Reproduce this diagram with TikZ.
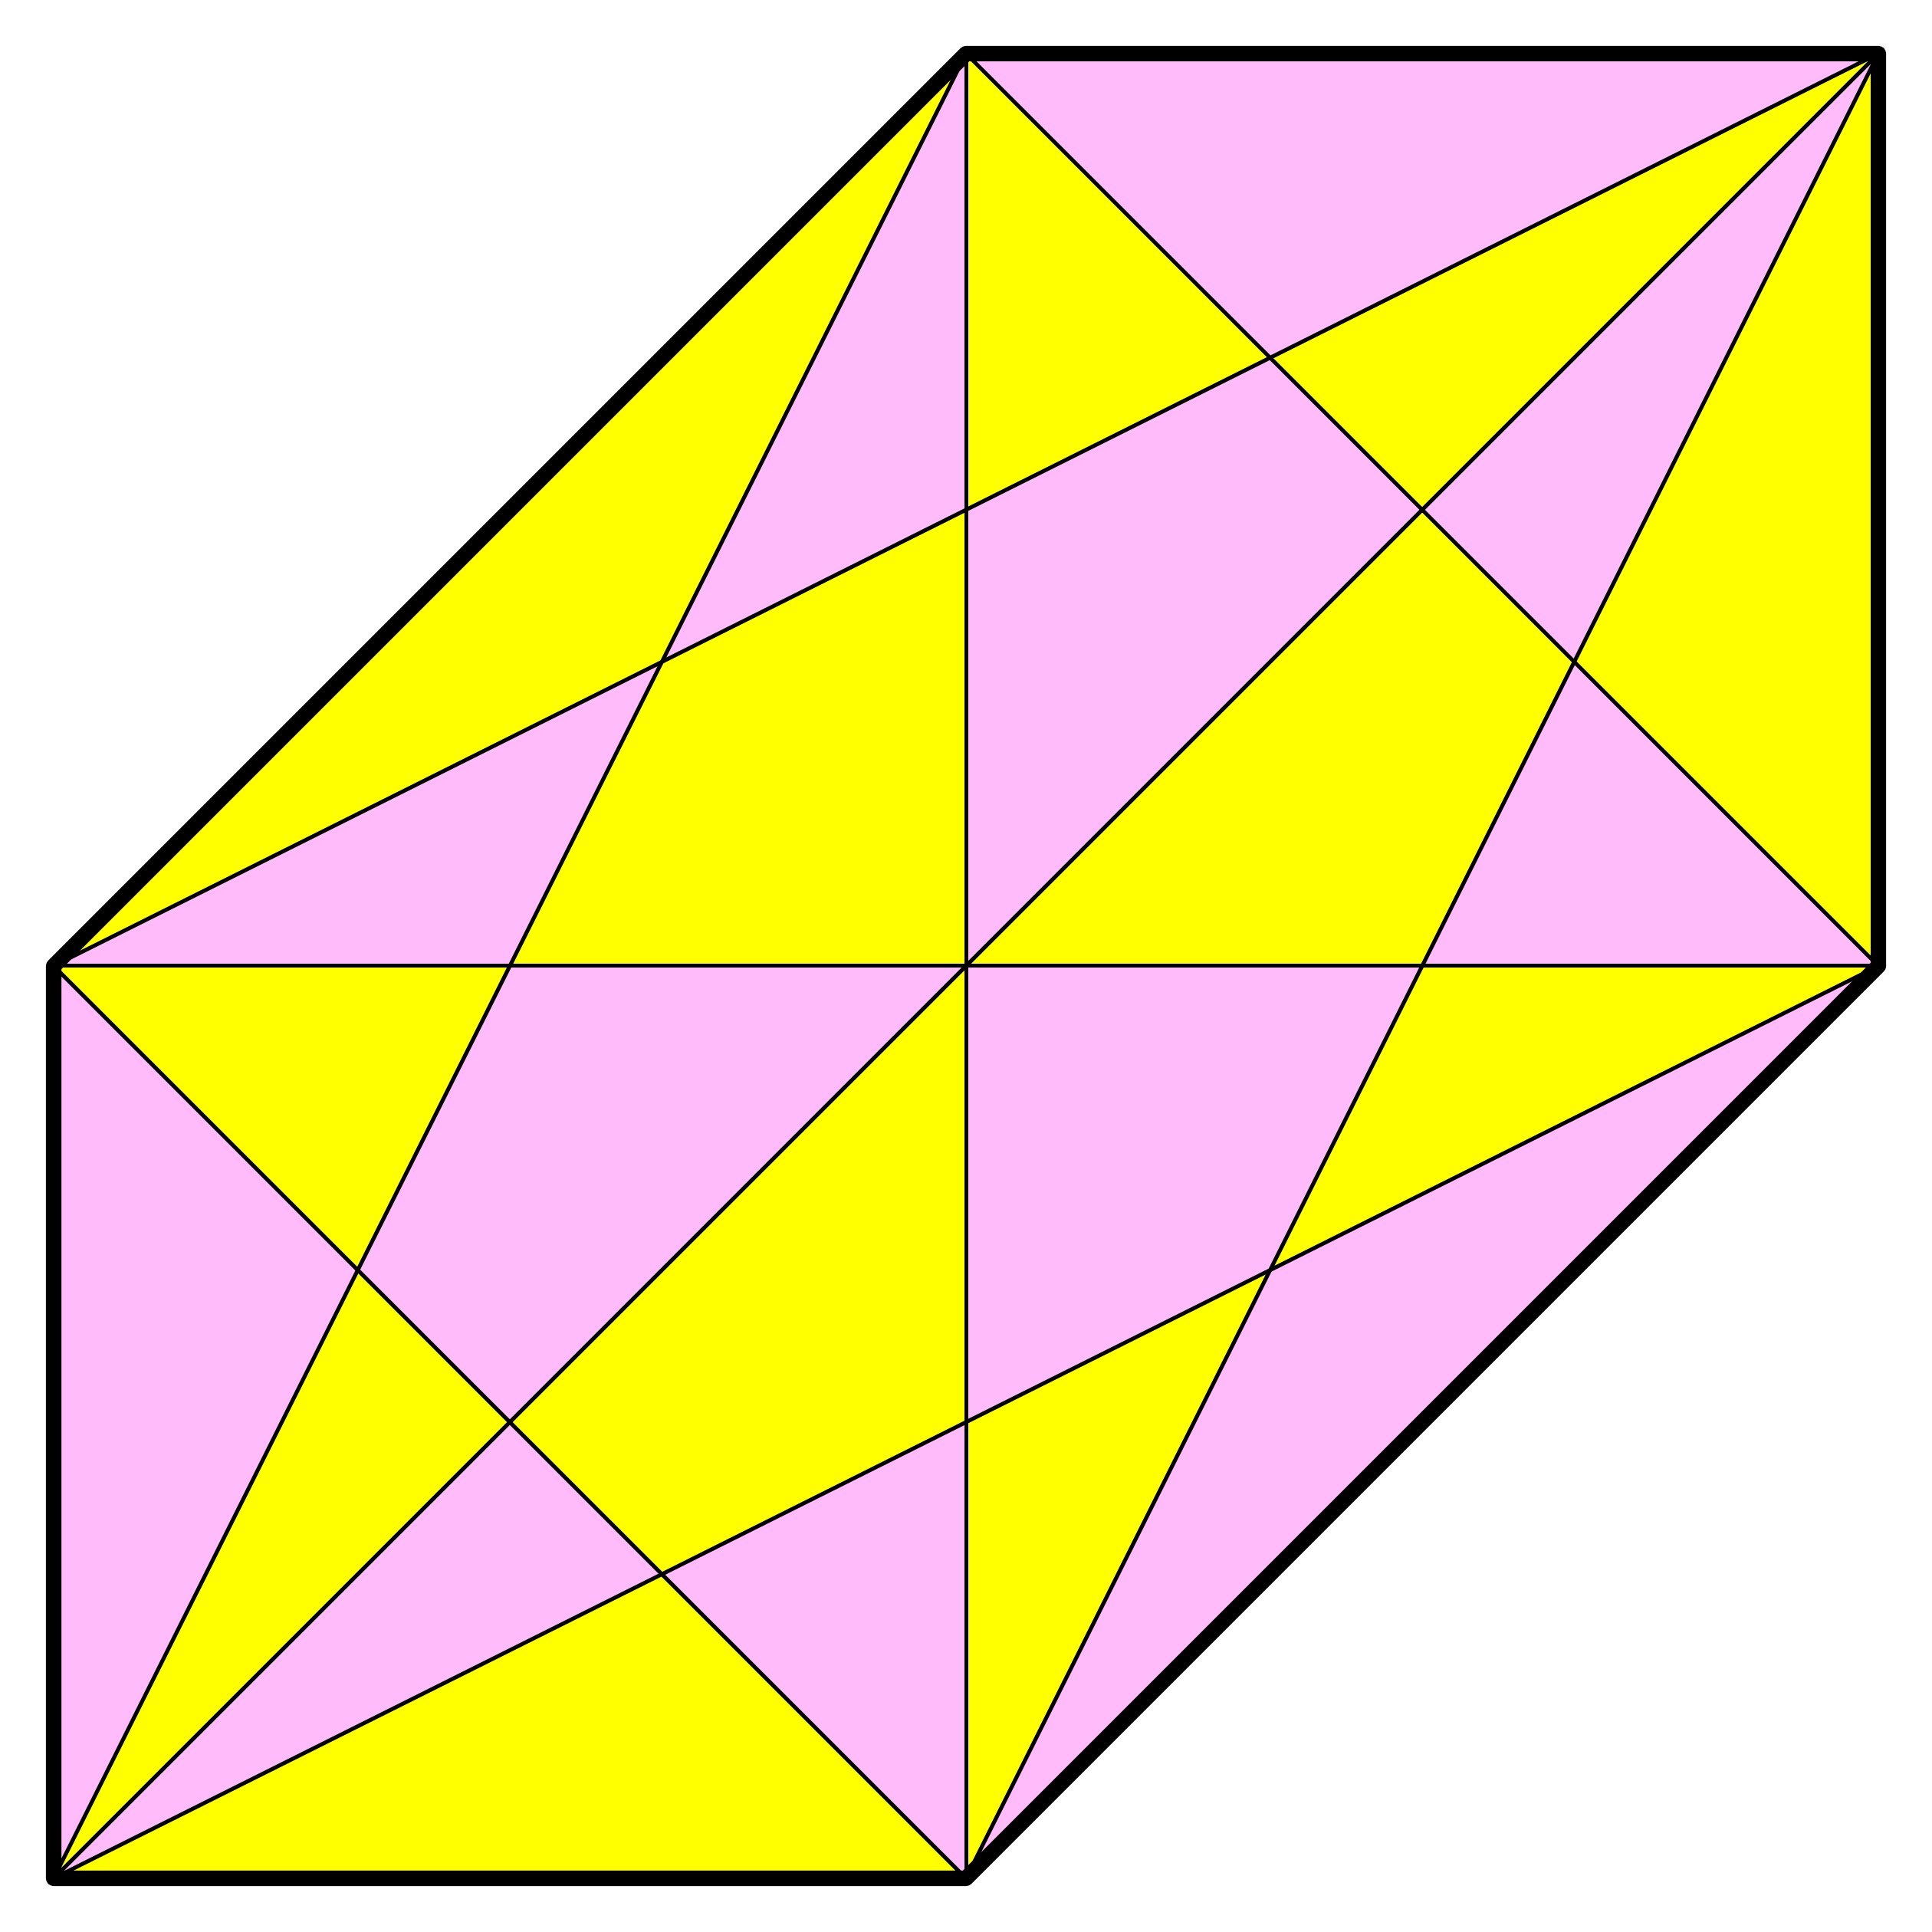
\documentclass[tikz,border=0pt]{standalone}
\definecolor{pinkfill}{RGB}{255,187,250}
\definecolor{yellowfill}{RGB}{255,255,0}
\tikzset{
  thinline/.style={line width=0.6pt, black},
  outline/.style={line width=2.4pt, black, line join=round, line cap=round}
}
\begin{document}
\begin{tikzpicture}[x=5cm,y=5cm]
\useasboundingbox (-0.0588,-0.0588) rectangle (2.0588,2.0588);
\coordinate (A) at (0,0);
\coordinate (B) at (1,0);
\coordinate (C) at (2,1);
\coordinate (D) at (2,2);
\coordinate (E) at (1,2);
\coordinate (F) at (0,1);
\fill[pinkfill] (A) -- (B) -- (C) -- (D) -- (E) -- (F) -- cycle;
\begin{scope}
\clip (A) -- (B) -- (C) -- (D) -- (E) -- (F) -- cycle;
\fill[yellowfill, even odd rule]
  (-5,-5) -- (7,7) -- (-5,7) -- cycle
  (-3,-6) -- (4,8) -- (-5,8) -- (-5,-6) -- cycle
  (-6,-3) -- (8,4) -- (8,8) -- (-6,8) -- cycle
  (-5,6) -- (6,-5) -- (6,6) -- cycle
  (-3,6) -- (6,-3) -- (6,6) -- cycle
  (-6,-2) -- (8,5) -- (8,8) -- (-6,8) -- cycle
  (-2,-6) -- (5,8) -- (-5,8) -- (-5,-6) -- cycle
  (-5,1) -- (7,1) -- (7,8) -- (-5,8) -- cycle
  (1,-5) -- (7,-5) -- (7,8) -- (1,8) -- cycle;
\end{scope}
\draw[thinline] (A) -- (D);
\draw[thinline] (A) -- (E);
\draw[thinline] (A) -- (C);
\draw[thinline] (F) -- (B);
\draw[thinline] (E) -- (C);
\draw[thinline] (F) -- (D);
\draw[thinline] (B) -- (D);
\draw[thinline] (F) -- (C);
\draw[thinline] (E) -- (B);
\draw[outline] (A) -- (B) -- (C) -- (D) -- (E) -- (F) -- cycle;
\end{tikzpicture}
\end{document}
